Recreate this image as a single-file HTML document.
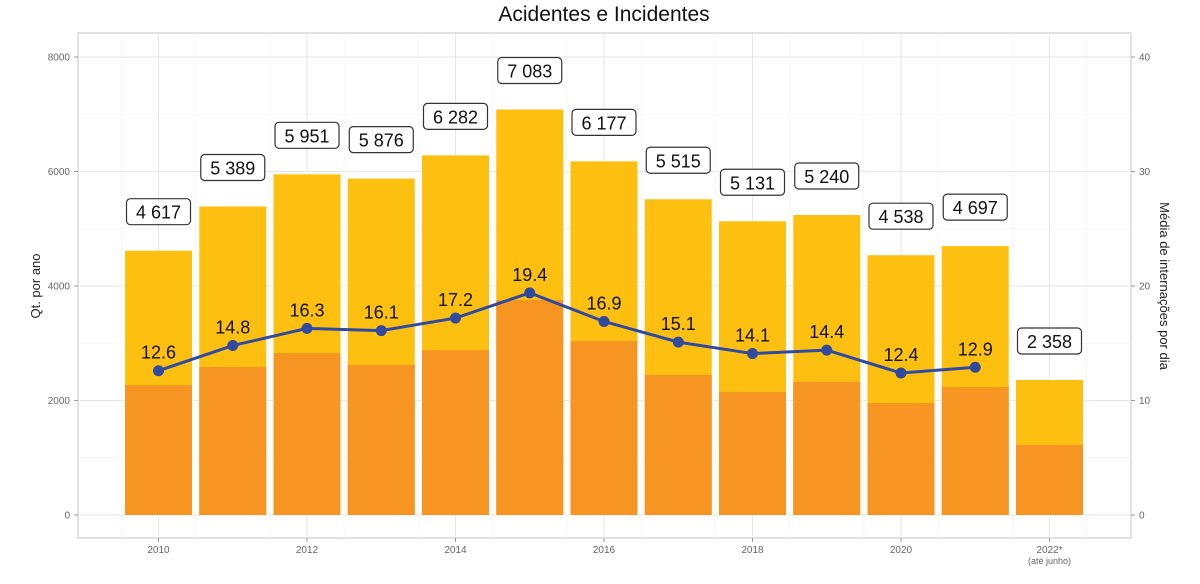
<!DOCTYPE html>
<html><head><meta charset="utf-8"><style>
body{margin:0;background:#fff;}
svg text{font-family:"Liberation Sans",sans-serif;}
</style></head><body>
<svg id="c" width="1200" height="579" xmlns="http://www.w3.org/2000/svg"></svg>
<script>
const years=['2010','2011','2012','2013','2014','2015','2016','2017','2018','2019','2020','2021','2022*'];
const totals=[4617,5389,5951,5876,6282,7083,6177,5515,5131,5240,4538,4697,2358];
const totalLabels=['4 617','5 389','5 951','5 876','6 282','7 083','6 177','5 515','5 131','5 240','4 538','4 697','2 358'];
const hosp=[2270,2585,2830,2620,2880,3755,3040,2445,2150,2325,1955,2235,1225];
const daily=[12.6,14.8,16.3,16.1,17.2,19.4,16.9,15.1,14.1,14.4,12.4,12.9];
const leftTicks=[0,2000,4000,6000,8000];
const rightTicks=[0,10,20,30,40];
const xTickLabels=['2010','2012','2014','2016','2018','2020','2022*'];
const xTickIdx=[0,2,4,6,8,10,12];

const NS='http://www.w3.org/2000/svg';
const svg=document.getElementById('c');
function el(t,a,txt){const e=document.createElementNS(NS,t);for(const k in a)e.setAttribute(k,a[k]);if(txt!==undefined)e.textContent=txt;svg.appendChild(e);return e;}
const L=78,R=1131,T=33,B=538;
const x=i=>158.5+i*74.25;
const y=v=>515-v*(458/8000);
const y2=v=>515-v*(458/40);
const bw=67;

let bg=el('rect',{x:L,y:T,width:R-L,height:B-T,fill:'#fff',stroke:'#d9d9d9','stroke-width':1.5});

// grid
for(let v=0;v<=8000;v+=1000){const g=el('line',{x1:L,x2:R,y1:y(v),y2:y(v),stroke:v%2000?'#f2f2f2':'#e6e6e6','stroke-width':v%2000?0.6:1});}
for(let i=-0.5;i<=12.5;i+=1){const g=el('line',{x1:x(i+0.5)-37.125,x2:x(i+0.5)-37.125,y1:T,y2:B,stroke:'#f2f2f2','stroke-width':0.6});}
xTickIdx.forEach(i=>{const g=el('line',{x1:x(i),x2:x(i),y1:T,y2:B,stroke:'#e6e6e6','stroke-width':1});});
// bars
years.forEach((yr,i)=>{
 const r1=el('rect',{x:x(i)-bw/2,y:y(totals[i]),width:bw,height:y(0)-y(totals[i]),fill:'#fec010'});
 
 const r2=el('rect',{x:x(i)-bw/2,y:y(hosp[i]),width:bw,height:y(0)-y(hosp[i]),fill:'#f69522'});
 
 // label box
 const ly=y(totals[i])-38;
 const bx=el('rect',{x:x(i)-32,y:ly-14,width:64,height:26,rx:4,fill:'#fff',stroke:'#333','stroke-width':1.2});
 
 const t=el('text',{x:x(i),y:ly+6,'text-anchor':'middle','font-size':18,fill:'#111'},totalLabels[i]);
 
});
// line
const pts=daily.map((v,i)=>x(i)+','+y2(v)).join(' ');
const pl=el('polyline',{points:pts,fill:'none',stroke:'#2f4aa0','stroke-width':3});

daily.forEach((v,i)=>{
 const c=el('circle',{cx:x(i),cy:y2(v),r:5.5,fill:'#2f4aa0'});
 
 const t=el('text',{x:x(i),y:y2(v)-12,'text-anchor':'middle','font-size':18,fill:'#111'},v.toFixed(1));
 
});
// axes ticks
leftTicks.forEach(v=>{
 el('line',{x1:L-4,x2:L,y1:y(v),y2:y(v),stroke:'#999'});
 const t=el('text',{x:L-8,y:y(v)+3.5,'text-anchor':'end','font-size':10,fill:'#666'},v);
 
});
rightTicks.forEach(v=>{
 el('line',{x1:R,x2:R+4,y1:y2(v),y2:y2(v),stroke:'#999'});
 const t=el('text',{x:R+8,y:y2(v)+3.5,'font-size':10,fill:'#666'},v);
 
});
xTickLabels.forEach((lab,k)=>{
 const i=xTickIdx[k];
 el('line',{x1:x(i),x2:x(i),y1:B,y2:B+4,stroke:'#999'});
 const t=el('text',{x:x(i),y:B+15,'text-anchor':'middle','font-size':10,fill:'#666'},lab);
 
});
const sub=el('text',{x:x(12),y:B+26,'text-anchor':'middle','font-size':9,fill:'#666'},'(até junho)');

// titles
const ti=el('text',{x:604,y:21,'text-anchor':'middle','font-size':21,fill:'#111'},'Acidentes e Incidentes');

const yl=el('text',{x:0,y:0,'text-anchor':'middle','font-size':13,fill:'#222',transform:'translate(40,286) rotate(-90)'},'Qt. por ano');

const yr2=el('text',{x:0,y:0,'text-anchor':'middle','font-size':13,fill:'#222',transform:'translate(1160,286) rotate(90)'},'Média de internações por dia');

</script>
</body></html>
